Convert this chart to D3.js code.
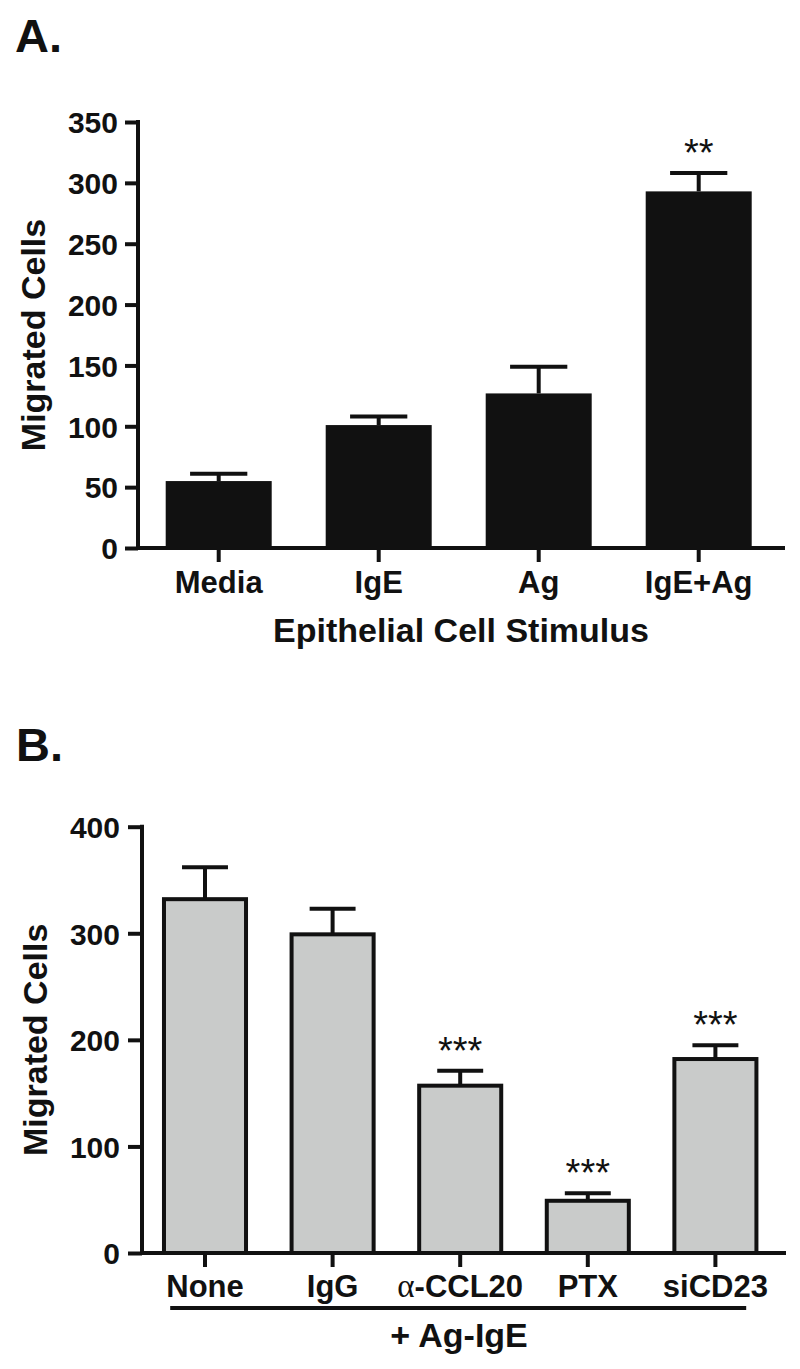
<!DOCTYPE html>
<html>
<head>
<meta charset="utf-8">
<script src="https://cdn.jsdelivr.net/npm/d3@7"></script>
<style>
  html, body { margin: 0; padding: 0; background: #fff; }
  svg { display: block; }
  text { font-family: "Liberation Sans", Arial, sans-serif; fill: #111; }
</style>
</head>
<body>
<svg id="chart" width="800" height="1369"></svg>
<script>
// ---------- Data ----------
const catsA = ["Media", "IgE", "Ag", "IgE+Ag"];
const meanA = [55, 101, 127, 293];
const errA  = [6, 7, 22, 15];
const sigA  = ["", "", "", "**"];
const ticksA = [0, 50, 100, 150, 200, 250, 300, 350];

const catsB = ["None", "IgG", "α-CCL20", "PTX", "siCD23"];
const meanB = [332, 299, 157, 49, 182];
const errB  = [30, 24, 14, 7, 13];
const sigB  = ["", "", "***", "***", "***"];
const ticksB = [0, 100, 200, 300, 400];

const yTitle = "Migrated Cells";
const xTitleA = "Epithelial Cell Stimulus";
const xTitleB = "+ Ag-IgE";

// ---------- Setup ----------
const svg = d3.select("#chart");
const INK = "#111";
const FONT = '"Liberation Sans", Arial, sans-serif';

function styleAxis(g, fontSize) {
  g.select(".domain").remove();
  g.selectAll(".tick line").attr("stroke", INK).attr("stroke-width", 4);
  g.selectAll(".tick text")
    .attr("fill", INK)
    .style("font-family", FONT)
    .style("font-weight", "bold")
    .style("font-size", fontSize + "px");
}

function drawErrors(g, cats, means, errs, x, y, capFrac) {
  const bw = x.bandwidth();
  cats.forEach((c, i) => {
    const cx = x(c) + bw / 2;
    const top = y(means[i] + errs[i]);
    g.append("line")
      .attr("x1", cx).attr("x2", cx)
      .attr("y1", y(means[i])).attr("y2", top)
      .attr("stroke", INK).attr("stroke-width", 4);
    g.append("line")
      .attr("x1", cx - bw * capFrac / 2).attr("x2", cx + bw * capFrac / 2)
      .attr("y1", top).attr("y2", top)
      .attr("stroke", INK).attr("stroke-width", 4);
  });
}

function drawSig(g, cats, means, errs, sigs, x, y) {
  const bw = x.bandwidth();
  cats.forEach((c, i) => {
    if (!sigs[i]) return;
    g.append("text")
      .attr("x", x(c) + bw / 2)
      .attr("y", y(means[i] + errs[i]) - 7)
      .attr("text-anchor", "middle")
      .style("font-size", "38px")
      .style("font-weight", "normal")
      .text(sigs[i]);
  });
}

// ---------- Panel A ----------
(function () {
  const g = svg.append("g");
  const y = d3.scaleLinear().domain([0, 350]).range([548, 122]);
  const x = d3.scaleBand().domain(catsA).range([138.7, 778.7])
    .paddingInner(0.3375).paddingOuter(0.3375 / 2);
  const axisX = 138;

  g.append("text").attr("x", 15).attr("y", 52)
    .style("font-size", "47px").style("font-weight", "bold").text("A.");

  // bars
  g.selectAll("rect.bar").data(catsA).join("rect")
    .attr("class", "bar")
    .attr("x", d => x(d))
    .attr("width", x.bandwidth())
    .attr("y", (d, i) => y(meanA[i]))
    .attr("height", (d, i) => y(0) - y(meanA[i]))
    .attr("fill", INK);

  drawErrors(g, catsA, meanA, errA, x, y, 0.54);
  drawSig(g, catsA, meanA, errA, sigA, x, y);

  // y axis
  const ya = g.append("g").attr("transform", `translate(${axisX},0)`)
    .call(d3.axisLeft(y).tickValues(ticksA).tickSize(13).tickPadding(7));
  styleAxis(ya, 30);
  ya.selectAll(".tick text").attr("dy", "0.36em");
  g.append("line").attr("x1", axisX).attr("x2", axisX)
    .attr("y1", y(350) - 2).attr("y2", y(0))
    .attr("stroke", INK).attr("stroke-width", 4);

  // x axis
  const xa = g.append("g").attr("transform", `translate(0,${y(0)})`)
    .call(d3.axisBottom(x).tickSize(14).tickSizeOuter(0));
  styleAxis(xa, 31);
  xa.selectAll(".tick text").attr("y", 45).attr("dy", 0);
  g.append("line").attr("x1", axisX - 2).attr("x2", 785)
    .attr("y1", y(0)).attr("y2", y(0))
    .attr("stroke", INK).attr("stroke-width", 4);

  // titles
  g.append("text").attr("x", 461).attr("y", 642).attr("text-anchor", "middle")
    .style("font-size", "34px").style("font-weight", "bold").text(xTitleA);
  g.append("text").attr("transform", `translate(45,${(y(0) + y(350)) / 2}) rotate(-90)`)
    .attr("text-anchor", "middle")
    .style("font-size", "34px").style("font-weight", "bold").text(yTitle);
})();

// ---------- Panel B ----------
(function () {
  const g = svg.append("g");
  const y = d3.scaleLinear().domain([0, 400]).range([1253, 826.7]);
  const x = d3.scaleBand().domain(catsB).range([141.2, 779.2])
    .paddingInner(0.357).paddingOuter(0.357 / 2);
  const axisX = 142;

  g.append("text").attr("x", 16).attr("y", 761)
    .style("font-size", "47px").style("font-weight", "bold").text("B.");

  drawErrors(g, catsB, meanB, errB, x, y, 0.56);

  g.selectAll("rect.bar").data(catsB).join("rect")
    .attr("class", "bar")
    .attr("x", d => x(d))
    .attr("width", x.bandwidth())
    .attr("y", (d, i) => y(meanB[i]))
    .attr("height", (d, i) => y(0) - y(meanB[i]))
    .attr("fill", "#c9cbca")
    .attr("stroke", INK).attr("stroke-width", 4);

  drawSig(g, catsB, meanB, errB, sigB, x, y);

  // y axis
  const ya = g.append("g").attr("transform", `translate(${axisX},0)`)
    .call(d3.axisLeft(y).tickValues(ticksB).tickSize(14).tickPadding(8));
  styleAxis(ya, 30);
  ya.selectAll(".tick text").attr("dy", "0.36em");
  g.append("line").attr("x1", axisX).attr("x2", axisX)
    .attr("y1", y(400) - 2).attr("y2", y(0))
    .attr("stroke", INK).attr("stroke-width", 4);

  // x axis
  const xa = g.append("g").attr("transform", `translate(0,${y(0)})`)
    .call(d3.axisBottom(x).tickSize(14).tickSizeOuter(0));
  styleAxis(xa, 31);
  xa.selectAll(".tick text").attr("y", 44).attr("dy", 0)
    .each(function (d) {
      const t = d3.select(this);
      if (d.startsWith("α")) {
        t.text(null);
        t.append("tspan")
          .style("font-family", '"Liberation Serif", "Times New Roman", serif')
          .style("font-weight", "normal")
          .style("font-size", "33px")
          .text("α");
        t.append("tspan").text(d.slice(1));
      }
    });
  g.append("line").attr("x1", axisX - 2).attr("x2", 786)
    .attr("y1", y(0)).attr("y2", y(0))
    .attr("stroke", INK).attr("stroke-width", 4);

  // bracket line under labels
  const r = x.range();
  g.append("line").attr("x1", r[0] + 29).attr("x2", r[1] - 33)
    .attr("y1", 1308).attr("y2", 1308)
    .attr("stroke", INK).attr("stroke-width", 4);

  g.append("text").attr("x", 459).attr("y", 1347).attr("text-anchor", "middle")
    .style("font-size", "34px").style("font-weight", "bold").text(xTitleB);
  g.append("text").attr("transform", `translate(47,${(y(0) + y(400)) / 2}) rotate(-90)`)
    .attr("text-anchor", "middle")
    .style("font-size", "34px").style("font-weight", "bold").text(yTitle);
})();
</script>
</body>
</html>
